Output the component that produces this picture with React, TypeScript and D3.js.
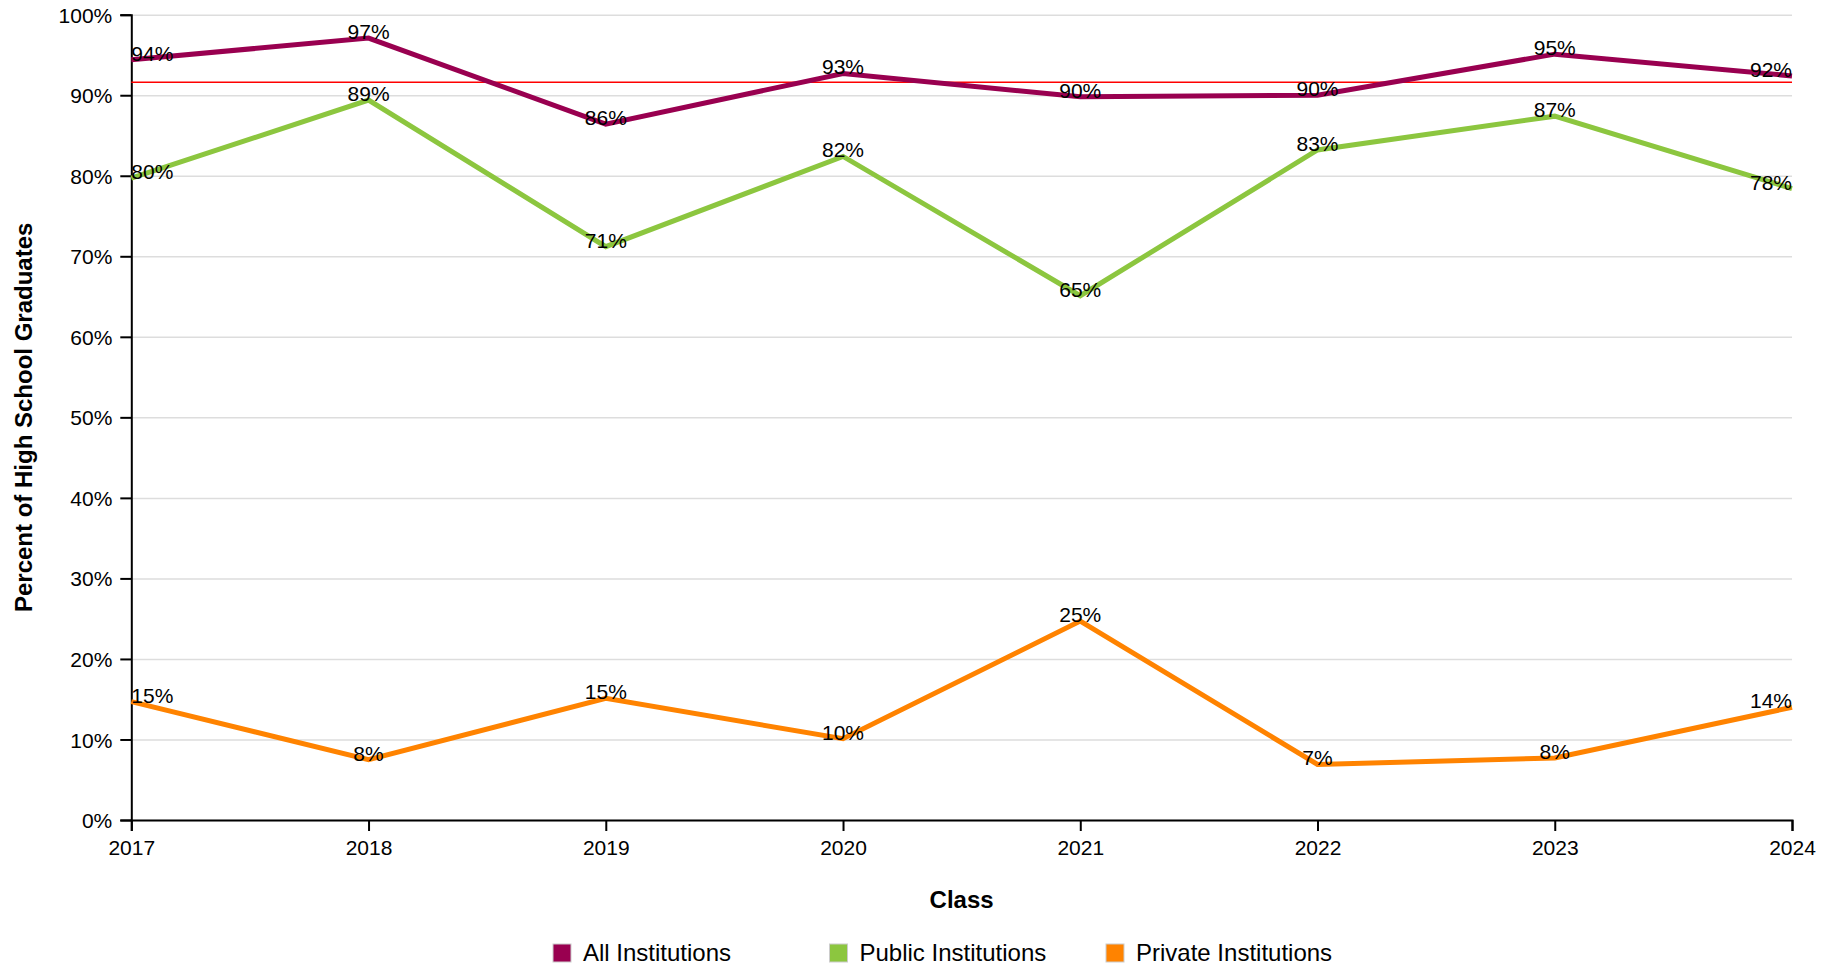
import React, { useEffect, useRef } from "react";
import * as d3 from "d3";

const years = [2017, 2018, 2019, 2020, 2021, 2022, 2023, 2024];
const allInstitutions = [94.4, 97.1, 86.4, 92.7, 89.8, 90.0, 95.1, 92.4];
const publicInstitutions = [79.7, 89.4, 71.2, 82.4, 65.1, 83.2, 87.4, 78.4];
const privateInstitutions = [14.7, 7.5, 15.1, 10.1, 24.7, 6.9, 7.7, 14.0];
const benchmark = 91.6;
const yTicks = [0, 10, 20, 30, 40, 50, 60, 70, 80, 90, 100];
const seriesNames = ["All Institutions", "Public Institutions", "Private Institutions"];
const seriesColors = ["#990050", "#8cc63f", "#ff8300"];

const FONT = "'Liberation Sans', Arial, Helvetica, sans-serif";

const App = () => {
  const svgRef = useRef(null);

  useEffect(() => {
    const W = 1839;
    const H = 967;
    const margin = { top: 14.7, right: 47, bottom: 147, left: 131.3 };
    const width = W - margin.left - margin.right;
    const height = H - margin.top - margin.bottom;

    const root = d3.select(svgRef.current);
    root.selectAll("*").remove();

    const svg = root
      .append("g")
      .attr("transform", `translate(${margin.left},${margin.top})`)
      .style("font-family", FONT);

    const xScale = d3
      .scaleLinear()
      .domain([years[0], years[years.length - 1]])
      .range([0, width]);
    const yScale = d3.scaleLinear().domain([0, 100]).range([height, 0]);

    // grid lines
    svg
      .append("g")
      .call(d3.axisLeft(yScale).tickValues(yTicks).tickSize(-width).tickFormat(() => ""))
      .call((g) => g.select(".domain").remove())
      .selectAll("line")
      .attr("stroke", "#dddddd")
      .attr("stroke-width", 1.5);

    // axes
    svg
      .append("g")
      .attr("transform", `translate(0,${height})`)
      .call(
        d3
          .axisBottom(xScale)
          .tickValues(years)
          .tickFormat(d3.format("d"))
          .tickSize(11)
          .tickPadding(9),
      )
      .call((g) => g.select(".domain").attr("stroke", "#000").attr("stroke-width", 2))
      .call((g) => g.selectAll(".tick line").attr("stroke", "#000").attr("stroke-width", 2))
      .call((g) =>
        g.selectAll(".tick text").attr("fill", "#000").style("font-size", "21px").style("font-family", FONT),
      );

    svg
      .append("g")
      .call(
        d3
          .axisLeft(yScale)
          .tickValues(yTicks)
          .tickFormat((d) => `${d}%`)
          .tickSize(11)
          .tickPadding(8),
      )
      .call((g) => g.select(".domain").attr("stroke", "#000").attr("stroke-width", 2))
      .call((g) => g.selectAll(".tick line").attr("stroke", "#000").attr("stroke-width", 2))
      .call((g) =>
        g
          .selectAll(".tick text")
          .attr("fill", "#000")
          .attr("dy", "0.36em")
          .style("font-size", "21px")
          .style("font-family", FONT),
      );

    // benchmark line
    svg
      .append("line")
      .attr("x1", 0)
      .attr("x2", width)
      .attr("y1", yScale(benchmark))
      .attr("y2", yScale(benchmark))
      .attr("stroke", "#ff0000")
      .attr("stroke-width", 1.5);

    const line = d3
      .line()
      .x((d, i) => xScale(years[i]))
      .y((d) => yScale(d));

    const allSeries = [allInstitutions, publicInstitutions, privateInstitutions];

    allSeries.forEach((data, si) => {
      svg
        .append("path")
        .datum(data)
        .attr("fill", "none")
        .attr("stroke", seriesColors[si])
        .attr("stroke-width", 5)
        .attr("d", line);
    });

    // value labels
    allSeries.forEach((data) => {
      svg
        .append("g")
        .selectAll("text")
        .data(data)
        .join("text")
        .attr("x", (d, i) => xScale(years[i]))
        .attr("y", (d) => yScale(d) + 1)
        .attr("text-anchor", (d, i) => (i === 0 ? "start" : i === data.length - 1 ? "end" : "middle"))
        .style("font-size", "21px")
        .attr("fill", "#000")
        .text((d) => `${Math.round(d)}%`);
    });

    // axis titles
    svg
      .append("text")
      .attr("x", width / 2)
      .attr("y", 908 - margin.top)
      .attr("text-anchor", "middle")
      .style("font-size", "24px")
      .style("font-weight", "bold")
      .text("Class");

    svg
      .append("text")
      .attr("transform", "rotate(-90)")
      .attr("x", -height / 2)
      .attr("y", 32 - margin.left)
      .attr("text-anchor", "middle")
      .style("font-size", "24px")
      .style("font-weight", "bold")
      .text("Percent of High School Graduates");

    // legend
    const legend = root
      .append("g")
      .style("font-family", FONT)
      .selectAll("g")
      .data(seriesNames)
      .join("g")
      .attr("transform", (d, i) => `translate(${553 + i * 276.5},944)`);

    legend
      .append("rect")
      .attr("width", 18)
      .attr("height", 18)
      .attr("fill", (d, i) => seriesColors[i])
      .attr("stroke", "#cccccc")
      .attr("stroke-width", 1);

    legend
      .append("text")
      .attr("x", 30)
      .attr("y", 17)
      .style("font-size", "24px")
      .attr("fill", "#000")
      .text((d) => d);
  }, []);

  return (
    <svg
      ref={svgRef}
      width={1839}
      height={967}
      style={{ position: "absolute", left: 0, top: 0, background: "#fff" }}
    />
  );
};

export default App;
